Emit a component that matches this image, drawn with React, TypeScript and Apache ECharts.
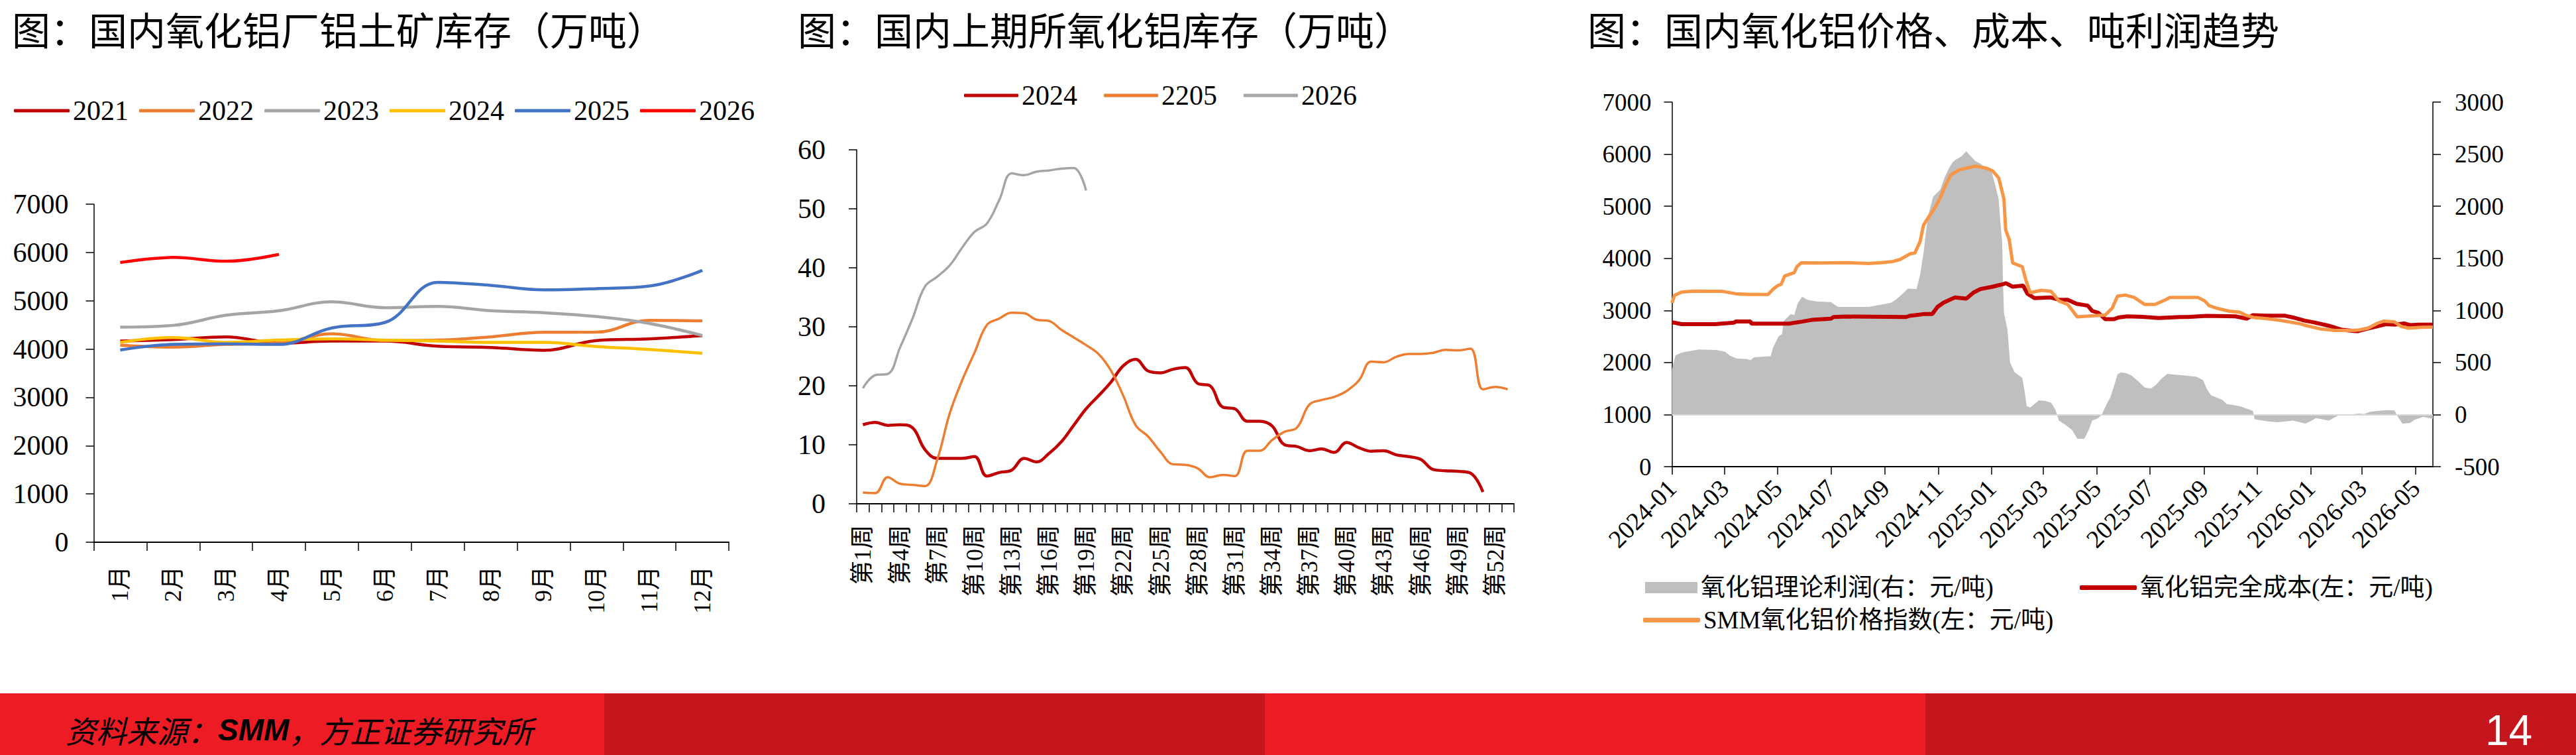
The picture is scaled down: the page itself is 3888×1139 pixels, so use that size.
import React, { useEffect, useRef } from "react";
import * as echarts from "echarts";

const SERIF = '"Liberation Serif", "Noto Sans CJK SC", serif';
const CJK = '"Noto Sans CJK SC", sans-serif';

// ---------- Panel 1: bauxite inventory at alumina plants (万吨) ----------
const monthLabels = ["1月", "2月", "3月", "4月", "5月", "6月", "7月", "8月", "9月", "10月", "11月", "12月"];
const bauxiteYears = ["2021", "2022", "2023", "2024", "2025", "2026"];
const bauxiteColors = ["#C00000", "#ED7D31", "#A5A5A5", "#FFC000", "#4472C4", "#FF0000"];
const bauxite2021 = [4164, 4196, 4250, 4122, 4164, 4164, 4059, 4033, 3975, 4175, 4211, 4280];
const bauxite2022 = [4080, 4040, 4096, 4122, 4316, 4175, 4185, 4253, 4348, 4350, 4595, 4584];
const bauxite2023 = [4453, 4490, 4700, 4794, 4978, 4857, 4883, 4794, 4752, 4673, 4530, 4280];
const bauxite2024 = [4138, 4238, 4138, 4185, 4211, 4185, 4164, 4138, 4138, 4054, 3991, 3912];
const bauxite2025 = [3980, 4096, 4106, 4096, 4437, 4550, 5382, 5319, 5225, 5251, 5304, 5629];
const bauxite2026 = [5792, 5897, 5818, 5960];

// ---------- Panel 2: SHFE alumina inventory (万吨) ----------
const weekLabels = Array.from({ length: 53 }, (_, i) => `第${i + 1}周`);
const shfeNames = ["2024", "2205", "2026"];
const shfeColors = ["#C00000", "#ED7D31", "#A5A5A5"];
const shfe2024 = [13.4, 13.8, 13.3, 13.4, 12.9, 9.2, 7.7, 7.7, 7.7, 8.0, 4.7, 5.3, 5.7, 7.7, 7.1, 8.5, 10.5, 13.3, 16.1, 18.3, 20.6, 23.4, 24.5, 22.5, 22.2, 22.8, 23.1, 20.4, 20.0, 16.4, 16.1, 14.0, 14.0, 13.2, 10.0, 9.7, 9.0, 9.3, 8.7, 10.4, 9.5, 8.9, 9.0, 8.3, 8.0, 7.5, 5.8, 5.6, 5.5, 5.2, 2.0];
const shfe2205 = [1.9, 1.8, 4.5, 3.4, 3.2, 3.0, 7.5, 15.3, 20.9, 25.6, 30.3, 31.4, 32.4, 32.3, 31.2, 31.0, 29.5, 28.2, 26.9, 25.4, 22.6, 18.3, 13.3, 11.4, 8.8, 6.7, 6.6, 6.0, 4.5, 4.9, 4.7, 9.0, 9.0, 10.8, 12.2, 12.9, 16.8, 17.6, 18.1, 19.1, 20.9, 24.1, 24.0, 24.9, 25.4, 25.4, 25.6, 26.1, 26.0, 26.3, 19.4, 19.8, 19.4];
const shfe2026 = [19.6, 21.8, 22.0, 26.5, 31.4, 36.8, 38.5, 40.4, 43.4, 46.1, 47.5, 51.5, 56.0, 55.7, 56.3, 56.5, 56.8, 56.9, 53.1];

// ---------- Panel 3: alumina price, cost, profit (元/吨) ----------
const dateTicks = ["2024-01", "2024-03", "2024-05", "2024-07", "2024-09", "2024-11", "2025-01", "2025-03", "2025-05", "2025-07", "2025-09", "2025-11", "2026-01", "2026-03", "2026-05"];
const profitName = "氧化铝理论利润(右：元/吨)";
const costName = "氧化铝完全成本(左：元/吨)";
const priceName = "SMM氧化铝价格指数(左：元/吨)";
const priceIndex: [string, number][] = [
  ["2024-01-01", 3140], ["2024-01-04", 3290], ["2024-01-12", 3350], ["2024-01-25", 3370], ["2024-02-28", 3365],
  ["2024-03-14", 3320], ["2024-03-30", 3305], ["2024-04-20", 3305], ["2024-04-26", 3410], ["2024-05-01", 3475],
  ["2024-05-05", 3500], ["2024-05-09", 3660], ["2024-05-20", 3725], ["2024-05-23", 3840], ["2024-05-28", 3915],
  ["2024-06-19", 3910], ["2024-07-19", 3918], ["2024-08-13", 3900], ["2024-08-28", 3918], ["2024-09-10", 3940],
  ["2024-09-18", 3977], ["2024-09-30", 4090], ["2024-10-05", 4100], ["2024-10-11", 4320], ["2024-10-15", 4640],
  ["2024-10-20", 4770], ["2024-10-29", 5000], ["2024-11-03", 5160], ["2024-11-08", 5360], ["2024-11-15", 5600],
  ["2024-11-25", 5700], ["2024-12-13", 5770], ["2024-12-26", 5730], ["2025-01-02", 5680], ["2025-01-09", 5545],
  ["2025-01-15", 5140], ["2025-01-17", 4545], ["2025-01-21", 4365], ["2025-01-25", 3910], ["2025-02-05", 3840],
  ["2025-02-09", 3590], ["2025-02-14", 3340], ["2025-02-27", 3385], ["2025-03-10", 3365], ["2025-03-19", 3180],
  ["2025-03-29", 3115], ["2025-04-09", 2875], ["2025-04-29", 2900], ["2025-05-11", 2910], ["2025-05-19", 3045],
  ["2025-05-25", 3275], ["2025-06-03", 3295], ["2025-06-13", 3250], ["2025-06-25", 3115], ["2025-07-07", 3115],
  ["2025-07-19", 3205], ["2025-07-24", 3250], ["2025-08-25", 3250], ["2025-09-02", 3180], ["2025-09-07", 3090],
  ["2025-09-17", 3035], ["2025-09-30", 2985], ["2025-10-12", 2965], ["2025-10-20", 2900], ["2025-10-28", 2865],
  ["2025-11-12", 2840], ["2025-11-27", 2810], ["2025-12-18", 2750], ["2025-12-28", 2705], ["2026-01-12", 2645],
  ["2026-01-29", 2615], ["2026-02-16", 2615], ["2026-02-26", 2625], ["2026-03-08", 2660], ["2026-03-18", 2750],
  ["2026-03-26", 2795], ["2026-04-07", 2780], ["2026-04-15", 2690], ["2026-04-23", 2660], ["2026-05-08", 2675],
  ["2026-05-21", 2680],
];
const fullCost: [string, number][] = [
  ["2024-01-01", 2773], ["2024-01-12", 2736], ["2024-02-19", 2736], ["2024-03-12", 2764], ["2024-03-14", 2786],
  ["2024-03-31", 2786], ["2024-04-01", 2745], ["2024-05-14", 2745], ["2024-05-29", 2786], ["2024-06-09", 2818],
  ["2024-07-01", 2841], ["2024-07-04", 2873], ["2024-07-19", 2882], ["2024-09-25", 2873], ["2024-09-30", 2900],
  ["2024-10-10", 2918], ["2024-10-16", 2932], ["2024-10-25", 2932], ["2024-10-31", 3068], ["2024-11-07", 3150],
  ["2024-11-20", 3250], ["2024-12-03", 3227], ["2024-12-11", 3341], ["2024-12-19", 3409], ["2025-01-02", 3455],
  ["2025-01-15", 3509], ["2025-01-17", 3523], ["2025-01-25", 3455], ["2025-02-06", 3477], ["2025-02-11", 3318],
  ["2025-02-19", 3236], ["2025-03-09", 3250], ["2025-03-19", 3205], ["2025-03-29", 3205], ["2025-04-08", 3127],
  ["2025-04-21", 3091], ["2025-04-26", 2991], ["2025-05-03", 2954], ["2025-05-11", 2832], ["2025-05-21", 2832],
  ["2025-05-26", 2864], ["2025-06-05", 2886], ["2025-06-23", 2877], ["2025-07-11", 2855], ["2025-08-05", 2873],
  ["2025-08-12", 2873], ["2025-09-04", 2895], ["2025-10-07", 2886], ["2025-10-20", 2841], ["2025-10-27", 2909],
  ["2025-11-12", 2900], ["2025-12-02", 2900], ["2025-12-12", 2864], ["2025-12-25", 2805], ["2026-01-04", 2773],
  ["2026-01-22", 2705], ["2026-02-06", 2627], ["2026-02-24", 2600], ["2026-03-06", 2645], ["2026-03-15", 2682],
  ["2026-03-28", 2736], ["2026-04-07", 2727], ["2026-04-18", 2750], ["2026-04-25", 2718], ["2026-05-05", 2727],
  ["2026-05-21", 2727],
];
const theoryProfit: [string, number][] = [
  ["2024-01-01", 430], ["2024-01-05", 568], ["2024-01-12", 595], ["2024-01-24", 614], ["2024-02-01", 625],
  ["2024-02-21", 620], ["2024-03-02", 602], ["2024-03-07", 568], ["2024-03-15", 539], ["2024-03-26", 534],
  ["2024-03-31", 523], ["2024-04-04", 550], ["2024-04-23", 561], ["2024-04-26", 648], ["2024-05-02", 750],
  ["2024-05-06", 773], ["2024-05-08", 898], ["2024-05-16", 966], ["2024-05-20", 955], ["2024-05-24", 1068],
  ["2024-05-29", 1130], ["2024-06-04", 1102], ["2024-06-14", 1086], ["2024-07-01", 1080], ["2024-07-09", 1034],
  ["2024-08-13", 1034], ["2024-08-29", 1057], ["2024-09-08", 1073], ["2024-09-13", 1102], ["2024-09-21", 1159],
  ["2024-09-27", 1209], ["2024-10-07", 1205], ["2024-10-11", 1341], ["2024-10-15", 1550], ["2024-10-17", 1700],
  ["2024-10-20", 1900], ["2024-10-26", 2091], ["2024-11-03", 2159], ["2024-11-08", 2273], ["2024-11-13", 2364],
  ["2024-11-17", 2420], ["2024-11-20", 2443], ["2024-11-27", 2477], ["2024-12-03", 2527], ["2024-12-07", 2489],
  ["2024-12-13", 2436], ["2024-12-19", 2409], ["2024-12-26", 2364], ["2025-01-01", 2330], ["2025-01-05", 2205],
  ["2025-01-09", 2068], ["2025-01-11", 1841], ["2025-01-13", 1659], ["2025-01-14", 1250], ["2025-01-15", 977],
  ["2025-01-19", 818], ["2025-01-22", 500], ["2025-01-27", 409], ["2025-02-05", 352], ["2025-02-08", 205],
  ["2025-02-10", 80], ["2025-02-14", 68], ["2025-02-19", 102], ["2025-02-24", 136], ["2025-03-03", 132],
  ["2025-03-10", 114], ["2025-03-15", 45], ["2025-03-19", -57], ["2025-03-27", -102], ["2025-04-03", -148],
  ["2025-04-09", -232], ["2025-04-17", -232], ["2025-04-22", -148], ["2025-04-26", -57], ["2025-05-03", -34],
  ["2025-05-07", 0], ["2025-05-12", 91], ["2025-05-17", 170], ["2025-05-21", 273], ["2025-05-25", 386],
  ["2025-05-29", 405], ["2025-06-04", 398], ["2025-06-10", 375], ["2025-06-18", 318], ["2025-06-25", 261],
  ["2025-07-02", 250], ["2025-07-08", 284], ["2025-07-14", 341], ["2025-07-21", 391], ["2025-07-28", 385],
  ["2025-08-10", 375], ["2025-08-23", 364], ["2025-08-31", 330], ["2025-09-04", 250], ["2025-09-09", 186],
  ["2025-09-22", 141], ["2025-09-27", 102], ["2025-10-12", 80], ["2025-10-20", 57], ["2025-10-27", 34],
  ["2025-10-29", -45], ["2025-11-12", -64], ["2025-11-24", -73], ["2025-12-12", -57], ["2025-12-26", -86],
  ["2026-01-01", -64], ["2026-01-07", -34], ["2026-01-22", -57], ["2026-02-01", -11], ["2026-02-16", 0],
  ["2026-02-26", 11], ["2026-03-03", 5], ["2026-03-10", 27], ["2026-03-26", 41], ["2026-04-07", 41],
  ["2026-04-11", -23], ["2026-04-16", -86], ["2026-04-25", -80], ["2026-04-30", -50], ["2026-05-10", -23],
  ["2026-05-21", -41],
];

const ts = (s: string) => {
  const [y, m, d] = s.split("-").map(Number);
  return Date.UTC(y, m - 1, d || 1);
};
const toXY = (arr: [string, number][]) => arr.map(([d, v]) => [ts(d), v]);
const ymFmt = (v: number) => {
  const d = new Date(v);
  return `${d.getUTCFullYear()}-${String(d.getUTCMonth() + 1).padStart(2, "0")}`;
};
const plain = (v: number) => String(v);

const titleStyle = { fontFamily: CJK, fontSize: 58, fontWeight: "normal" as const, color: "#000" };
const blackLine = (w: number) => ({ show: true, onZero: false, lineStyle: { color: "#000", width: w } });
const tick = (len: number) => ({ show: true, length: len, lineStyle: { color: "#000", width: 1.5 } });

function optionA() {
  const data = [bauxite2021, bauxite2022, bauxite2023, bauxite2024, bauxite2025, bauxite2026];
  return {
    animation: false,
    title: { text: "图：国内氧化铝厂铝土矿库存（万吨）", left: 18, top: 14, padding: 0, textStyle: titleStyle },
    legend: {
      left: 21, top: 146, padding: 0, itemWidth: 84, itemHeight: 5, itemGap: 16, icon: "roundRect",
      textStyle: { fontFamily: SERIF, fontSize: 42, color: "#000" }, data: bauxiteYears,
    },
    grid: { left: 141.5, top: 308, width: 958.5, height: 510, outerBoundsMode: "none" },
    xAxis: {
      type: "category", data: monthLabels, boundaryGap: true,
      axisLine: blackLine(2), axisTick: { ...tick(13), interval: 0 },
      axisLabel: { interval: 0, rotate: 90, margin: 36, fontFamily: SERIF, fontSize: 36, color: "#000" },
    },
    yAxis: {
      type: "value", min: 0, max: 7000, interval: 1000,
      axisLine: blackLine(1.5), axisTick: tick(12), splitLine: { show: false },
      axisLabel: { margin: 38, fontFamily: SERIF, fontSize: 42, color: "#000", formatter: plain },
    },
    series: bauxiteYears.map((name, i) => ({
      name, type: "line", data: data[i], smooth: 0.4, symbol: "none",
      lineStyle: { width: 4.5, color: bauxiteColors[i] }, itemStyle: { color: bauxiteColors[i] },
    })),
  };
}

function optionB() {
  const data = [shfe2024, shfe2205, shfe2026];
  const widths = [4.5, 3.5, 3.5];
  return {
    animation: false,
    title: { text: "图：国内上期所氧化铝库存（万吨）", left: 24, top: 14, padding: 0, textStyle: titleStyle },
    legend: {
      left: 275, top: 123, padding: 0, itemWidth: 82, itemHeight: 5, itemGap: 40, icon: "roundRect",
      textStyle: { fontFamily: SERIF, fontSize: 42, color: "#000" }, data: shfeNames,
    },
    grid: { left: 113, top: 226, width: 992, height: 534, outerBoundsMode: "none" },
    xAxis: {
      type: "category", data: weekLabels, boundaryGap: true,
      axisLine: blackLine(2), axisTick: { ...tick(13), interval: 0 },
      axisLabel: { interval: 2, rotate: 90, margin: 32, fontFamily: SERIF, fontSize: 36, color: "#000" },
    },
    yAxis: {
      type: "value", min: 0, max: 60, interval: 10,
      axisLine: blackLine(1.5), axisTick: tick(12), splitLine: { show: false },
      axisLabel: { margin: 47, fontFamily: SERIF, fontSize: 42, color: "#000", formatter: plain },
    },
    series: shfeNames.map((name, i) => ({
      name, type: "line", data: data[i], smooth: 0.4, symbol: "none",
      lineStyle: { width: widths[i], color: shfeColors[i] }, itemStyle: { color: shfeColors[i] },
    })),
  };
}

function optionC() {
  const tickVals = dateTicks.map((s) => ts(`${s}-01`));
  const legendText = { fontFamily: SERIF, fontSize: 37, color: "#000" };
  return {
    animation: false,
    title: { text: "图：国内氧化铝价格、成本、吨利润趋势", left: 16, top: 14, padding: 0, textStyle: titleStyle },
    legend: [
      { left: 103, top: 868, padding: 0, itemWidth: 79, itemHeight: 17, textStyle: legendText, data: [{ name: profitName, icon: "rect" }] },
      { left: 759, top: 868, padding: 0, itemWidth: 86, itemHeight: 7, icon: "roundRect", textStyle: legendText, data: [costName] },
      { left: 100, top: 917, padding: 0, itemWidth: 86, itemHeight: 7, icon: "roundRect", textStyle: legendText, data: [priceName] },
    ],
    grid: { left: 143.5, top: 154, width: 1148.5, height: 550, outerBoundsMode: "none" },
    xAxis: {
      type: "value", min: ts("2024-01-01"), max: ts("2026-05-21"),
      axisLine: blackLine(2), splitLine: { show: false },
      axisTick: { ...tick(12), customValues: tickVals },
      axisLabel: {
        customValues: tickVals, formatter: (v: number) => ymFmt(v), rotate: 45, margin: 26,
        fontFamily: SERIF, fontSize: 38, color: "#000",
      },
    },
    yAxis: [
      {
        type: "value", min: 0, max: 7000, interval: 1000, position: "left",
        axisLine: blackLine(1.5), axisTick: tick(12), splitLine: { show: false },
        axisLabel: { margin: 31, fontFamily: SERIF, fontSize: 37, color: "#000", formatter: plain },
      },
      {
        type: "value", min: -500, max: 3000, interval: 500, position: "right",
        axisLine: blackLine(1.5), axisTick: tick(12), splitLine: { show: false },
        axisLabel: { margin: 33, fontFamily: SERIF, fontSize: 37, color: "#000", formatter: plain },
      },
    ],
    series: [
      {
        name: profitName, type: "line", yAxisIndex: 1, data: toXY(theoryProfit), symbol: "none",
        lineStyle: { width: 0 }, itemStyle: { color: "#BFBFBF" }, areaStyle: { color: "#BFBFBF", opacity: 1 },
        markLine: {
          silent: true, symbol: "none", label: { show: false },
          lineStyle: { color: "#D9D9D9", width: 2, type: "solid" }, data: [{ yAxis: 0 }],
        },
      },
      {
        name: costName, type: "line", data: toXY(fullCost), symbol: "none",
        lineStyle: { width: 6, color: "#C00000" }, itemStyle: { color: "#C00000" },
      },
      {
        name: priceName, type: "line", data: toXY(priceIndex), symbol: "none",
        lineStyle: { width: 5, color: "#F79646" }, itemStyle: { color: "#F79646" },
      },
    ],
  };
}

function optionD() {
  return {
    animation: false,
    graphic: [
      { type: "rect", shape: { x: 0, y: 6, width: 912, height: 93 }, style: { fill: "#ED1C24" } },
      { type: "rect", shape: { x: 912, y: 6, width: 997, height: 93 }, style: { fill: "#C4161C" } },
      { type: "rect", shape: { x: 1909, y: 6, width: 997, height: 93 }, style: { fill: "#ED1C24" } },
      { type: "rect", shape: { x: 2906, y: 6, width: 982, height: 93 }, style: { fill: "#C4161C" } },
      {
        type: "text", x: 99, y: 61,
        style: {
          text: "{a|资料来源：}{b|SMM}{a|，方正证券研究所}", verticalAlign: "middle", fill: "#000",
          rich: {
            a: { fontFamily: CJK, fontSize: 46, fontStyle: "italic", fill: "#000" },
            b: { fontFamily: '"Liberation Sans", sans-serif', fontSize: 46, fontStyle: "italic", fontWeight: "bold", fill: "#000" },
          },
        },
      },
      {
        type: "text", x: 3751, y: 62,
        style: { text: "14", verticalAlign: "middle", fill: "#fff", fontFamily: '"Liberation Sans", sans-serif', fontSize: 64 },
      },
    ],
  };
}

export default function App() {
  const refA = useRef<HTMLDivElement>(null);
  const refB = useRef<HTMLDivElement>(null);
  const refC = useRef<HTMLDivElement>(null);
  const refD = useRef<HTMLDivElement>(null);

  useEffect(() => {
    document.body.style.margin = "0";
    const charts = [
      [refA, optionA()],
      [refB, optionB()],
      [refC, optionC()],
      [refD, optionD()],
    ].map(([ref, opt]: any) => {
      const c = echarts.init(ref.current, undefined, { renderer: "svg" });
      c.setOption(opt);
      return c;
    });
    return () => charts.forEach((c) => c.dispose());
  }, []);

  return (
    <div style={{ position: "relative", width: 3888, height: 1139, background: "#fff", overflow: "hidden" }}>
      <div ref={refA} style={{ position: "absolute", left: 0, top: 0, width: 1180, height: 1040 }} />
      <div ref={refB} style={{ position: "absolute", left: 1180, top: 0, width: 1200, height: 1040 }} />
      <div ref={refC} style={{ position: "absolute", left: 2380, top: 0, width: 1508, height: 1040 }} />
      <div ref={refD} style={{ position: "absolute", left: 0, top: 1040, width: 3888, height: 99 }} />
    </div>
  );
}
